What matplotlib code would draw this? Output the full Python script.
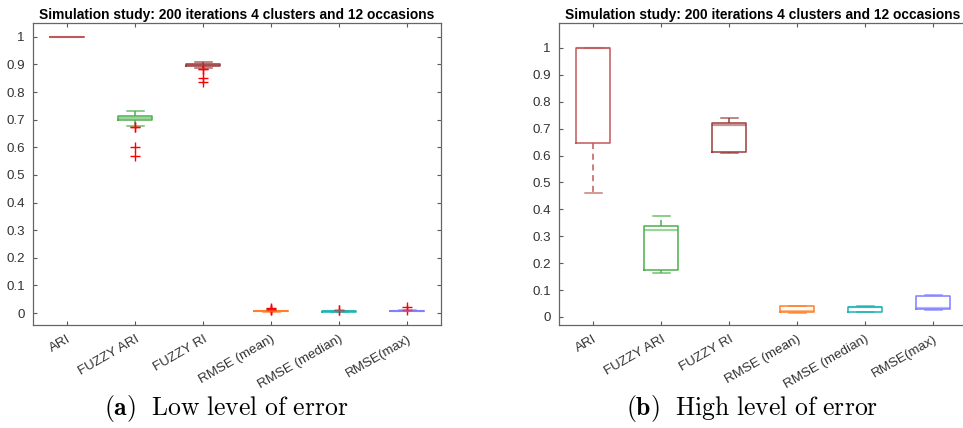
import matplotlib
matplotlib.use('Agg')
import matplotlib.pyplot as plt

plt.rcParams['font.family'] = ['Liberation Sans', 'DejaVu Sans']
plt.rcParams['mathtext.fontset'] = 'cm'

labels = ['ARI', 'FUZZY ARI', 'FUZZY RI', 'RMSE (mean)', 'RMSE (median)', 'RMSE(max)']
colors = ['#C05A5A', '#4CAF4C', '#9A3C3C', '#FF7F2A', '#1FB3B3', '#7F7FFF']
title = 'Simulation study: 200 iterations 4 clusters and 12 occasions'

# (a) low level of error
low_q1 = [1.0, 0.700, 0.894, 0.006, 0.005, 0.007]
low_med = [1.0, 0.707, 0.897, 0.007, 0.006, 0.008]
low_q3 = [1.0, 0.714, 0.900, 0.008, 0.007, 0.009]
low_lo = [1.0, 0.676, 0.886, 0.005, 0.004, 0.006]
low_hi = [1.0, 0.731, 0.908, 0.009, 0.008, 0.010]
low_out = [[], [0.672, 0.675, 0.600, 0.570], [0.884, 0.885, 0.850, 0.838],
           [0.010, 0.012, 0.015, 0.019], [0.010, 0.013], [0.012, 0.022]]

# (b) high level of error
high_q1 = [0.645, 0.175, 0.615, 0.019, 0.019, 0.031]
high_med = [1.0, 0.325, 0.712, 0.021, 0.037, 0.034]
high_q3 = [1.0, 0.337, 0.720, 0.040, 0.038, 0.079]
high_lo = [0.460, 0.163, 0.610, 0.016, 0.017, 0.024]
high_hi = [1.0, 0.375, 0.740, 0.042, 0.039, 0.082]
high_out = [[], [], [], [], [], []]


def make_stats(q1, med, q3, lo, hi, out):
    stats = []
    for i in range(len(labels)):
        stats.append({'q1': q1[i], 'med': med[i], 'q3': q3[i],
                      'whislo': lo[i], 'whishi': hi[i], 'fliers': out[i]})
    return stats


def draw_panel(ax, stats, ylim):
    parts = ax.bxp(stats, positions=range(1, 7), widths=0.5, showfliers=True)
    for i, c in enumerate(colors):
        parts['boxes'][i].set(color=c, linewidth=1.1)
        parts['medians'][i].set(color=c, linewidth=1.6, alpha=0.55)
        for w in parts['whiskers'][2 * i:2 * i + 2]:
            w.set(color=c, linewidth=1.1, linestyle=(0, (4, 3)))
        for cap in parts['caps'][2 * i:2 * i + 2]:
            cap.set(color=c, linewidth=1.1, alpha=0.8)
        parts['fliers'][i].set(marker='+', markeredgecolor='red',
                               markersize=7, markeredgewidth=1.0)
    ax.set_xlim(0.5, 6.5)
    ax.set_ylim(*ylim)
    ax.set_yticks([i / 10 for i in range(11)])
    ax.set_yticklabels(['0'] + ['0.%d' % i for i in range(1, 10)] + ['1'])
    ax.set_xticks(range(1, 7))
    ax.set_xticklabels(labels, rotation=30, ha='right', rotation_mode='anchor')
    ax.tick_params(direction='in', length=3, top=True, right=True,
                   labelsize=9.6, colors='0.35', labelcolor='0.2', pad=6)
    for s in ax.spines.values():
        s.set_color('0.4')
        s.set_linewidth(0.9)
    ax.set_title(title, fontsize=9.9, fontweight='bold', pad=3)


fig = plt.figure(figsize=(9.63, 4.28), dpi=100)
ax1 = fig.add_axes([0.0343, 0.2407, 0.4237, 0.7056])
ax2 = fig.add_axes([0.5805, 0.2407, 0.4237, 0.7056])

draw_panel(ax1, make_stats(low_q1, low_med, low_q3, low_lo, low_hi, low_out), (-0.043, 1.05))
draw_panel(ax2, make_stats(high_q1, high_med, high_q3, high_lo, high_hi, high_out), (-0.03, 1.093))

fig.text(0.235, 0.03, r'$\mathbf{(a)}\ \ \mathrm{Low\ level\ of\ error}$', ha='center', fontsize=18.5)
fig.text(0.781, 0.03, r'$\mathbf{(b)}\ \ \mathrm{High\ level\ of\ error}$', ha='center', fontsize=18.5)

fig.savefig('out.png', dpi=100)
